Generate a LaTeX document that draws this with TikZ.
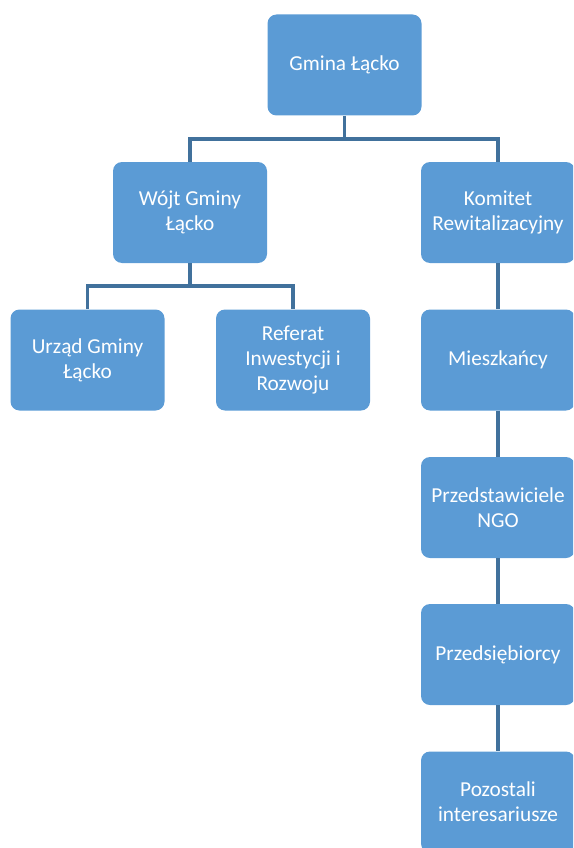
\documentclass[tikz,border=0pt]{standalone}
\usepackage{fontspec}
\setmainfont{Carlito}
\usepackage{tikz}
\usetikzlibrary{calc}
\definecolor{boxblue}{HTML}{5B9BD5}
\definecolor{lineblue}{HTML}{41719C}

\begin{document}
\begin{tikzpicture}[x=1pt, y=-1pt,
		unit/.style={fill=boxblue, rounded corners=9pt, minimum width=154pt, minimum height=101pt,
			inner sep=0pt, text=white, align=center, font=\fontsize{21.3}{25}\selectfont},
		link/.style={line width=3.5pt, color=lineblue}]
			%%%%% START %%%%%
			\useasboundingbox (0, 0) rectangle (573, 848);
			\clip (0, 0) rectangle (573, 848);
			
			\node[unit] (gmina) at (344.5, 65) {Gmina Łącko};
			
			\node[unit] (wojt) at (190, 212.5) {Wójt Gminy\\Łącko};
			\node[unit] (komitet) at (498, 212.5) {Komitet\\Rewitalizacyjny};
			
			\node[unit] (urzad) at (87.5, 360) {Urząd Gminy\\Łącko};
			\node[unit] (referat) at (293, 360) {Referat\\Inwestycji i\\Rozwoju};
			
			\node[unit] (mieszkancy) at (498, 360) {Mieszkańcy};
			\node[unit] (ngo) at (498, 507.5) {Przedstawiciele\\NGO};
			\node[unit] (przedsiebiorcy) at (498, 654.5) {Przedsiębiorcy};
			\node[unit] (pozostali) at (498, 802) {Pozostali\\interesariusze};
			
			\coordinate (bartop) at (344.5, 139);
			\draw[link] (gmina.south) -- (bartop);
			\draw[link] (bartop) -| (wojt.north);
			\draw[link] (bartop) -| (komitet.north);
			
			\coordinate (barwojt) at (190, 286);
			\draw[link] (wojt.south) -- (barwojt);
			\draw[link] (barwojt) -| (urzad.north);
			\draw[link] (barwojt) -| (referat.north);
			
			\draw[link] (komitet.south) -- (mieszkancy.north);
			\draw[link] (mieszkancy.south) -- (ngo.north);
			\draw[link] (ngo.south) -- (przedsiebiorcy.north);
			\draw[link] (przedsiebiorcy.south) -- (pozostali.north);
			
			%%%%% END %%%%%
		\end{tikzpicture}
\end{document}
